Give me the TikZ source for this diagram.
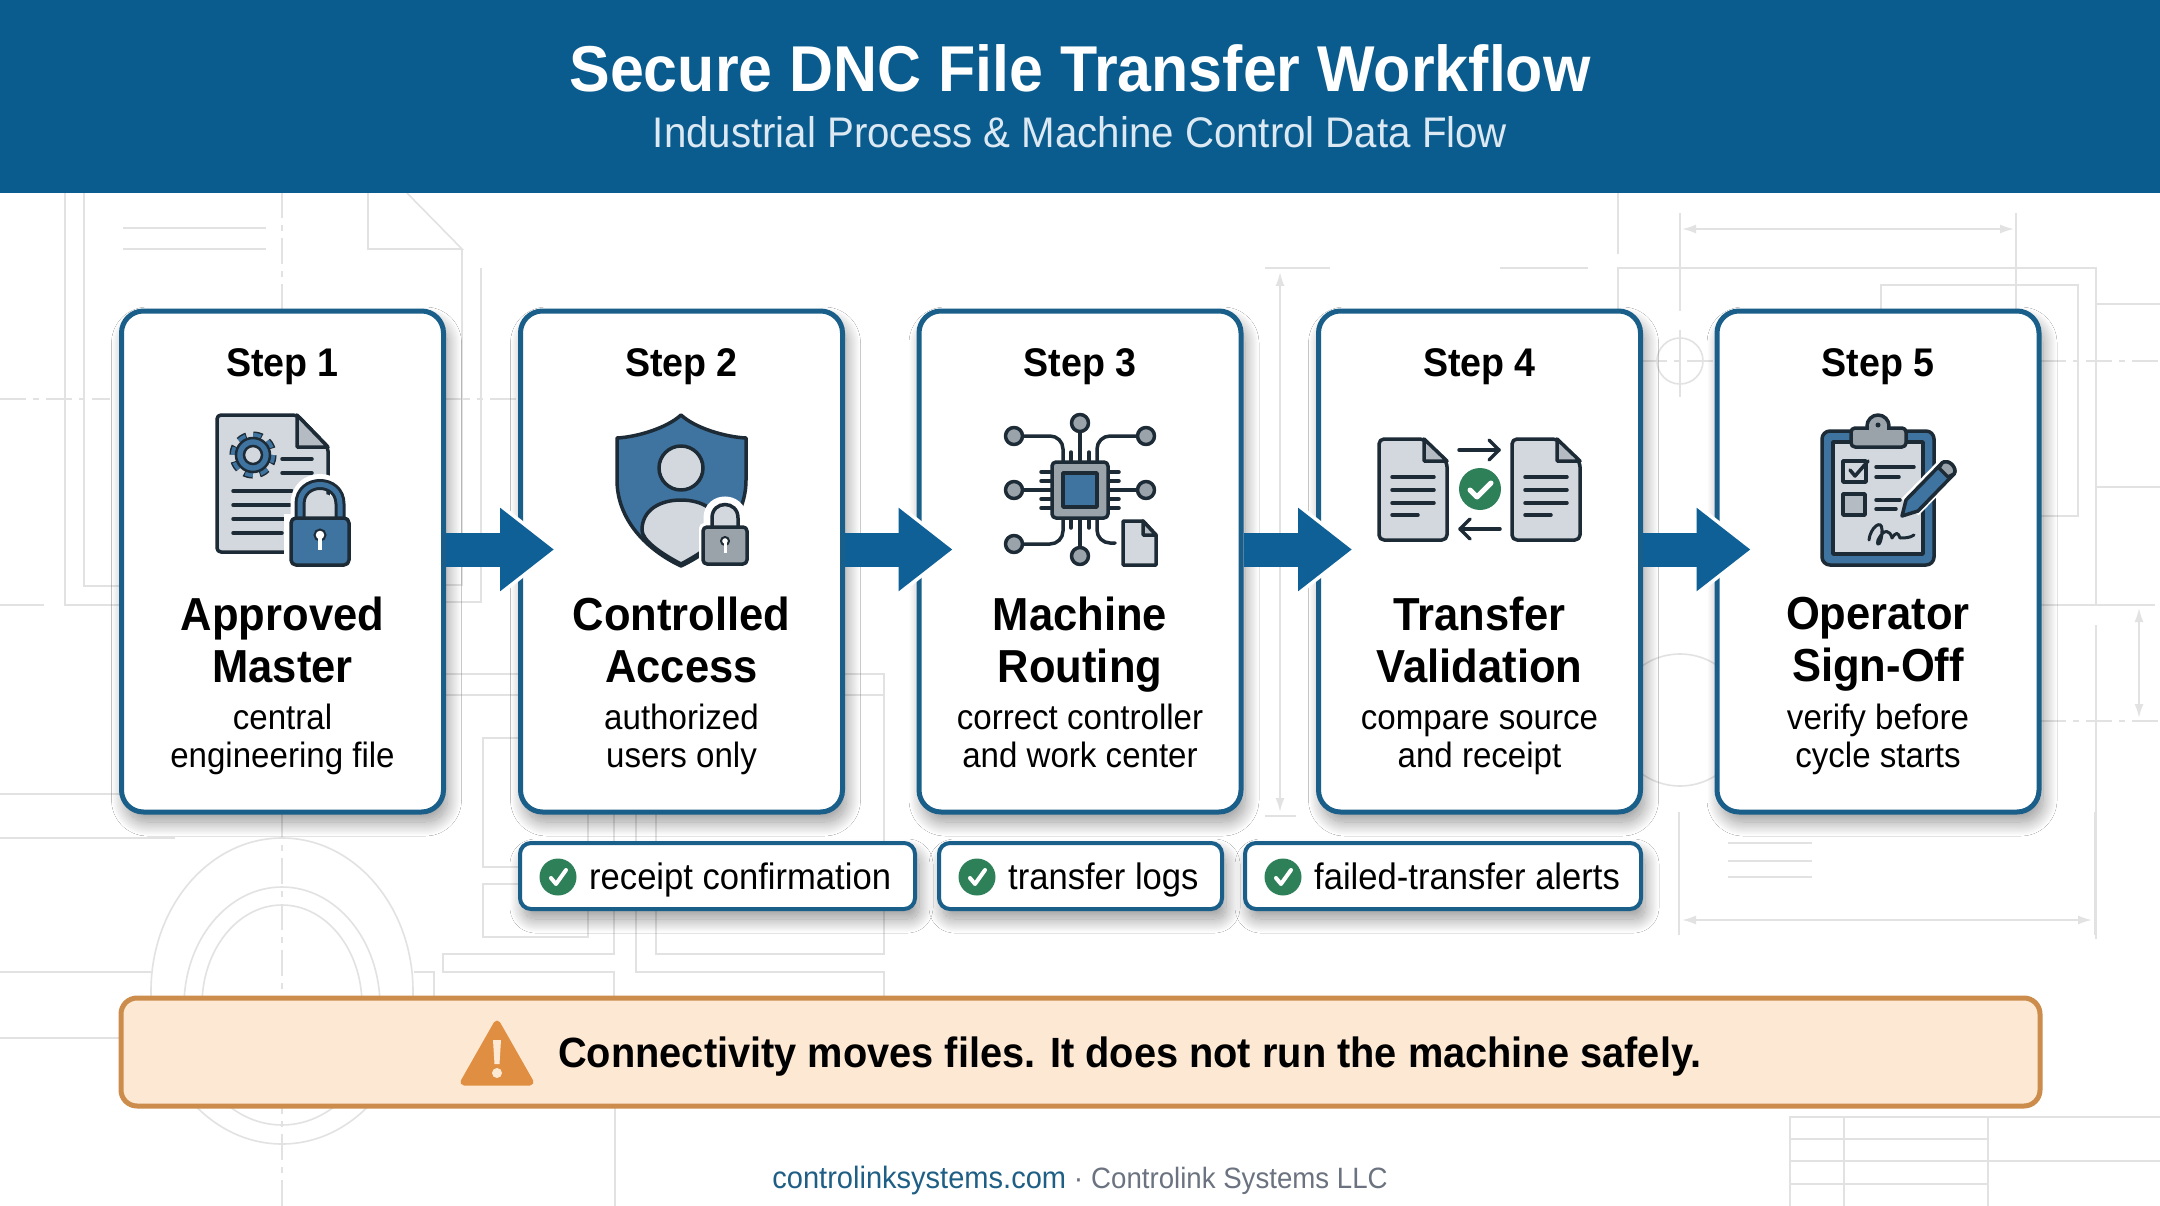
\documentclass[tikz,border=0pt]{standalone}
\usepackage{xcolor}
\usepackage{fontspec}
\setmainfont[FakeStretch=0.94]{Liberation Sans}
\usetikzlibrary{arrows.meta, positioning, shadows.blur}
\definecolor{headerblue}{HTML}{0b5c8e}
\definecolor{flowblue}{HTML}{0e6096}
\definecolor{cardblue}{HTML}{1a5f8a}
\definecolor{subtext}{HTML}{dce9f3}
\definecolor{inkdark}{HTML}{1d2b36}
\definecolor{sheetgray}{HTML}{d3d8de}
\definecolor{foldgray}{HTML}{b5bbc3}
\definecolor{midgray}{HTML}{9aa2aa}
\definecolor{iconblue}{HTML}{3f73a0}
\definecolor{okgreen}{HTML}{2e8058}
\definecolor{bannerfill}{HTML}{fde9d3}
\definecolor{bannerline}{HTML}{cb8c4c}
\definecolor{warnorange}{HTML}{e08f42}
\definecolor{draftline}{HTML}{e2e2e2}
\definecolor{linkblue}{HTML}{1f5f85}
\definecolor{graytext}{HTML}{6b7280}

\begin{document}
\begin{tikzpicture}[
  x=1pt, y=-1pt,
  softshadow/.style={blur shadow={shadow xshift=4pt, shadow yshift=-10pt, shadow blur radius=14pt, shadow blur steps=30, shadow opacity=42}},
  stepcard/.style={draw=cardblue, line width=5pt, rounded corners=22pt, fill=white,
                   minimum width=322pt, minimum height=501pt, softshadow},
  chipbox/.style={draw=cardblue, line width=4pt, rounded corners=11pt, fill=white,
                  minimum height=66pt, softshadow},
  stephead/.style={anchor=base, inner sep=0pt, font=\fontsize{40}{44}\selectfont\bfseries},
  steptitle/.style={anchor=north, inner sep=0pt, align=center,
                    font=\fontsize{46.3}{52}\selectfont\bfseries},
  stepdesc/.style={anchor=north, inner sep=0pt, align=center,
                   font=\fontsize{35.2}{38.5}\selectfont},
  chiptext/.style={anchor=base west, inner sep=0pt, font=\fontsize{36.8}{40}\selectfont},
  flowarrow/.style={draw=flowblue, line width=34pt, -{Triangle[length=54pt, width=80pt]},
                    preaction={draw=white, shorten >=-5pt, -{Triangle[length=62pt, width=94pt]}}},
  draft/.style={draw=draftline, line width=1.6pt},
  draftdash/.style={draw=draftline, line width=1.6pt, dash pattern=on 26pt off 7pt on 6pt off 7pt},
  dim/.style={draw=draftline, line width=2pt, {Latex[length=14pt, width=9pt]}-{Latex[length=14pt, width=9pt]}},
  ink/.style={draw=inkdark, line width=3.5pt, line join=round, line cap=round},
  okcheck/.style={draw=white, line width=4pt, line cap=round, line join=round},
]
\useasboundingbox (0,0) rectangle (2160,1206);
\fill[fill=white] (0,0) rectangle (2160,1206);

% Drawing lines behind the cards, left side
\draw[draft] (65,193) -- (65,605) -- (121,605);
\draw[draft] (84,193) -- (84,586) -- (121,586);
\draw[draft] (0,605) -- (44,605);
\draw[draftdash] (0,399) -- (110,399);
\draw[draftdash] (444,399) -- (521,399);
\draw[draft] (0,794) -- (121,794);
\draw[draft] (0,838) -- (175,838);
\draw[draft] (0,972) -- (151,972);
\draw[draft] (0,1038) -- (121,1038);
\draw[draft] (123,228) -- (266,228);
\draw[draft] (123,249) -- (266,249);
\draw[draftdash] (282,310) -- (282,193);
\draw[draft] (368,193) -- (368,249) -- (462,249) -- (407,193);
\draw[draft] (462,249) -- (462,585) -- (444,585);
\draw[draft] (481,268) -- (481,602) -- (444,602);
\draw[draft] (444,674) -- (521,674);
\draw[draft] (444,695) -- (521,695);
\draw[draftdash] (282,812) -- (282,1206);
\draw[draft] (282,991) ellipse [x radius=131, y radius=153];
\draw[draft] (282,1006) ellipse [x radius=98, y radius=119];
\draw[draft] (282,1005) ellipse [x radius=80, y radius=100];
\draw[draft] (414,972) -- (434,972) -- (434,998);

% Drawing lines behind the chips
\draw[draft] (521,738) -- (483,738) -- (483,867) -- (520,867);
\draw[draft] (520,884) -- (483,884) -- (483,937) -- (588,937) -- (588,812);
\draw[draft] (614,812) -- (614,954) -- (443,954) -- (443,972) -- (614,972) -- (614,998);
\draw[draft] (636,812) -- (636,972) -- (884,972) -- (884,998);
\draw[draft] (656,812) -- (656,954) -- (884,954) -- (884,674) -- (842,674);
\draw[draft] (842,695) -- (884,695);
\draw[draft] (615,1106) -- (615,1206);

% Drawing lines, right side
\draw[dim] (1280,272) -- (1280,812);
\draw[draft] (1265,268) -- (1330,268);
\draw[draft] (1265,816) -- (1296,816);
\draw[draft] (1500,268) -- (1588,268);
\draw[draft] (1618,193) -- (1618,254);
\draw[draft] (1618,311) -- (1618,268) -- (2096,268) -- (2096,605) -- (2040,605);
\draw[draft] (1680,213) -- (1680,311);
\draw[draft] (2016,213) -- (2016,311);
\draw[dim] (1682,229) -- (2014,229);
\draw[draft] (1881,311) -- (1881,285) -- (2078,285) -- (2078,516) -- (2040,516);
\draw[draft] (1680,361) circle [radius=23];
\draw[draft] (1680,330) -- (1680,397);
\draw[draftdash] (1641,361) -- (1717,361);
\draw[draftdash] (2040,361) -- (2160,361);
\draw[draft] (2096,304) -- (2160,304);
\draw[draft] (2096,487) -- (2160,487);
\draw[draft] (2096,605) -- (2155,605);
\draw[draft] (2096,625) -- (2096,939);
\draw[dim] (2139,608) -- (2139,718);
\draw[draftdash] (2040,721) -- (2160,721);
\draw[draft] (1680,720) circle [radius=66];
\draw[draft] (1679,812) -- (1679,935);
\draw[draft] (2095,812) -- (2095,935);
\draw[dim] (1682,920) -- (2092,920);
\draw[draft] (1728,843) -- (1812,843);
\draw[draft] (1728,861) -- (1812,861);
\draw[draft] (1728,877) -- (1812,877);
\draw[draft] (1790,1206) -- (1790,1117) -- (2160,1117);
\draw[draft] (1844,1117) -- (1844,1206);
\draw[draft] (1988,1117) -- (1988,1206);
\draw[draft] (1790,1139) -- (1988,1139);
\draw[draft] (1790,1161) -- (2160,1161);
\draw[draft] (1790,1184) -- (1988,1184);

% Header
\fill[headerblue] (0,0) rectangle (2160,193);
\node[font=\fontsize{64.8}{70}\selectfont\bfseries, text=white, inner sep=0pt] (title) at (1080,68) {Secure DNC File Transfer Workflow};
\node[font=\fontsize{42.8}{46}\selectfont, text=subtext, inner sep=0pt] (subtitle) at (1080,132) {Industrial Process \& Machine Control Data Flow};

% Step cards
\node[stepcard] (card1) at (282.5,561.5) {};
\node[stepcard] (card2) at (681.5,561.5) {};
\node[stepcard] (card3) at (1080,561.5) {};
\node[stepcard] (card4) at (1479.5,561.5) {};
\node[stepcard] (card5) at (1878,561.5) {};

% Step 1
\node[stephead] (head1) at (282.5,376) {Step 1};
\node[steptitle] (name1) at (282.5,597) {Approved\\Master};
\node[stepdesc] (desc1) at (282.5,703.3) {central\\engineering file};
\draw[ink, fill=sheetgray, rounded corners=4pt] (217,415) -- (297,415) -- (328,447) -- (328,552) -- (217,552) -- cycle;
\draw[ink, fill=foldgray] (297,415) -- (297,447) -- (328,447) -- cycle;
\draw[inkdark, line width=8pt, dash pattern=on 8.7pt off 6.7pt] (253,455) circle [radius=19.6];
\draw[iconblue, line width=5pt, dash pattern=on 7.7pt off 7.7pt] (253,455) circle [radius=19.6];
\draw[draw=inkdark, line width=2.5pt, fill=iconblue] (253,455) circle [radius=17];
\draw[draw=inkdark, line width=2.5pt, fill=sheetgray] (253,455) circle [radius=9];
\draw[ink] (282,459) -- (312,459);
\draw[ink] (282,473) -- (312,473);
\draw[ink] (233,491) -- (292,491);
\draw[ink] (233,505) -- (290,505);
\draw[ink] (233,519) -- (290,519);
\draw[ink] (233,533) -- (282,533);
\draw[white, line width=15pt] (298,518) -- (298,504) .. controls (298,474) and (342,474) .. (342,504) -- (342,518);
\fill[white] (284,514) rectangle (331,570);
\fill[sheetgray] (304,518) -- (304,504) .. controls (304,490) and (336,490) .. (336,504) -- (336,518) -- cycle;
\draw[inkdark, line width=11pt] (300,520) -- (300,504) .. controls (300,478) and (340,478) .. (340,504) -- (340,520);
\draw[iconblue, line width=5pt] (300,520) -- (300,504) .. controls (300,478) and (340,478) .. (340,504) -- (340,520);
\draw[ink, fill=iconblue, rounded corners=5pt] (291,518) rectangle (349,565);
\draw[inkdark, fill=white, line width=2pt] (320,535) circle [radius=5.5];
\draw[white, line width=4pt] (320,537) -- (320,550);

% Step 2
\node[stephead] (head2) at (681.5,376) {Step 2};
\node[steptitle] (name2) at (681.5,597) {Controlled\\Access};
\node[stepdesc] (desc2) at (681.5,703.3) {authorized\\users only};
\draw[ink, fill=iconblue] (681,415) .. controls (695,428) and (725,437) .. (746,438) -- (746,480) .. controls (746,520) and (715,550) .. (681,566) .. controls (647,550) and (617,520) .. (617,480) -- (617,438) .. controls (637,437) and (667,428) .. (681,415) -- cycle;
\draw[ink, fill=sheetgray] (681,468) ellipse [x radius=22, y radius=22];
\draw[ink, fill=sheetgray] (681,564) .. controls (660,553) and (642,540) .. (642,530) .. controls (642,510) and (660,500) .. (681,500) .. controls (702,500) and (720,510) .. (720,530) .. controls (720,540) and (702,553) .. (681,564) -- cycle;
\draw[white, line width=13pt] (710,528) -- (710,518) .. controls (710,498) and (740,498) .. (740,518) -- (740,528);
\fill[white, rounded corners=5pt] (699,523) rectangle (751,568);
\draw[inkdark, line width=3.5pt, fill=sheetgray] (712,528) -- (712,518) .. controls (712,500) and (738,500) .. (738,518) -- (738,528);
\draw[ink, fill=midgray, rounded corners=4pt] (703,527) rectangle (747,564);
\draw[inkdark, fill=white, line width=2pt] (725,541) circle [radius=4];
\draw[white, line width=3pt] (725,543) -- (725,553);

% Step 3
\node[stephead] (head3) at (1080,376) {Step 3};
\node[steptitle] (name3) at (1080,597) {Machine\\Routing};
\node[stepdesc] (desc3) at (1080,703.3) {correct controller\\and work center};
\draw[ink, rounded corners=13pt] (1014,436) -| (1063,462);
\draw[ink, rounded corners=13pt] (1146,436) -| (1097,462);
\draw[ink, rounded corners=13pt] (1014,544) -| (1063,518);
\draw[ink, rounded corners=13pt] (1115,543) -| (1097,518);
\draw[ink] (1080,423) -- (1080,462);
\draw[ink] (1080,518) -- (1080,556);
\draw[ink] (1014,490) -- (1052,490);
\draw[ink] (1108,490) -- (1146,490);
\draw[ink] (1071,452) -- (1071,462);
\draw[ink] (1089,452) -- (1089,462);
\draw[ink] (1071,518) -- (1071,528);
\draw[ink] (1089,518) -- (1089,528);
\draw[ink] (1041,472) -- (1052,472);
\draw[ink] (1041,481) -- (1052,481);
\draw[ink] (1041,499) -- (1052,499);
\draw[ink] (1041,508) -- (1052,508);
\draw[ink] (1108,472) -- (1119,472);
\draw[ink] (1108,481) -- (1119,481);
\draw[ink] (1108,499) -- (1119,499);
\draw[ink] (1108,508) -- (1119,508);
\draw[ink, fill=midgray, rounded corners=4pt] (1052,462) rectangle (1108,518);
\draw[ink, fill=iconblue] (1063,473) rectangle (1097,507);
\draw[ink, fill=midgray] (1080,423) circle [radius=8.5];
\draw[ink, fill=midgray] (1014,436) circle [radius=8.5];
\draw[ink, fill=midgray] (1146,436) circle [radius=8.5];
\draw[ink, fill=midgray] (1014,490) circle [radius=8.5];
\draw[ink, fill=midgray] (1146,490) circle [radius=8.5];
\draw[ink, fill=midgray] (1014,544) circle [radius=8.5];
\draw[ink, fill=midgray] (1080,556) circle [radius=8.5];
\draw[ink, fill=sheetgray] (1123,521) -- (1143,521) -- (1156,535) -- (1156,565) -- (1123,565) -- cycle;
\draw[ink, fill=foldgray] (1143,521) -- (1143,535) -- (1156,535) -- cycle;

% Step 4
\node[stephead] (head4) at (1479.5,376) {Step 4};
\node[steptitle] (name4) at (1479.5,597) {Transfer\\Validation};
\node[stepdesc] (desc4) at (1479.5,703.3) {\vphantom{l}compare source\\and receipt};
\draw[ink, fill=sheetgray, rounded corners=5pt] (1379,439) -- (1424,439) -- (1447,462) -- (1447,540) -- (1379,540) -- cycle;
\draw[ink, fill=foldgray] (1424,439) -- (1424,461) -- (1447,461) -- cycle;
\draw[ink] (1392,477) -- (1434,477);
\draw[ink] (1392,490) -- (1434,490);
\draw[ink] (1392,503) -- (1434,503);
\draw[ink] (1392,515) -- (1418,515);
\draw[ink, fill=sheetgray, rounded corners=5pt] (1512,439) -- (1557,439) -- (1580,462) -- (1580,540) -- (1512,540) -- cycle;
\draw[ink, fill=foldgray] (1557,439) -- (1557,461) -- (1580,461) -- cycle;
\draw[ink] (1525,477) -- (1567,477);
\draw[ink] (1525,490) -- (1567,490);
\draw[ink] (1525,503) -- (1567,503);
\draw[ink] (1525,515) -- (1551,515);
\draw[ink] (1459,450) -- (1499,450);
\draw[ink] (1489,440) -- (1499,450) -- (1489,460);
\draw[ink] (1500,529) -- (1460,529);
\draw[ink] (1470,519) -- (1460,529) -- (1470,539);
\fill[okgreen] (1480,489) circle [radius=21];
\draw[okcheck, line width=5pt] (1470,490) -- (1477,497) -- (1491,483);

% Step 5
\node[stephead] (head5) at (1878,376) {Step 5};
\node[steptitle] (name5) at (1878,597) {Operator\\Sign-Off};
\node[stepdesc] (desc5) at (1878,703.3) {verify before\\cycle starts};
\draw[ink, fill=iconblue, rounded corners=8pt] (1822,431) rectangle (1934,565);
\draw[ink, fill=sheetgray] (1833,442) rectangle (1923,554);
\draw[ink, fill=midgray] (1878,426) circle [radius=11];
\draw[ink, fill=midgray, rounded corners=4pt] (1851,428) rectangle (1906,447);
\fill[midgray] (1869,424) rectangle (1887,433);
\fill[inkdark] (1878,425) circle [radius=2.5];
\draw[ink, fill=sheetgray] (1843,461) rectangle (1866,482);
\draw[ink] (1850,470) -- (1855,476) -- (1868,461);
\draw[ink] (1876,467) -- (1914,467);
\draw[ink] (1876,477) -- (1899,477);
\draw[ink, fill=foldgray] (1843,494) rectangle (1865,515);
\draw[ink] (1876,500) -- (1900,500);
\draw[ink] (1876,509) -- (1896,509);
\draw[ink, line width=3pt] (1869,540) .. controls (1870,528) and (1882,518) .. (1882,530) .. controls (1882,545) and (1876,548) .. (1878,540) .. controls (1884,528) and (1890,530) .. (1892,538) .. controls (1896,532) and (1898,532) .. (1900,538) .. controls (1904,538) and (1910,538) .. (1914,535);
\draw[white, line width=24pt] (1910,507) -- (1948,468);
\draw[ink, fill=iconblue] (1902,516) -- (1906,500) -- (1942,463) .. controls (1948,458) and (1958,468) .. (1954,474) -- (1918,511) -- cycle;
\draw[ink, fill=midgray] (1942,463) .. controls (1948,458) and (1958,468) .. (1954,474) -- (1948,477) -- (1939,468) -- cycle;

% Arrows
\draw[flowarrow] ([yshift=12pt]card1.east) -- ([xshift=36pt, yshift=12pt]card2.west);
\draw[flowarrow] ([yshift=12pt]card2.east) -- ([xshift=36pt, yshift=12pt]card3.west);
\draw[flowarrow] ([yshift=12pt]card3.east) -- ([xshift=36pt, yshift=12pt]card4.west);
\draw[flowarrow] ([yshift=12pt]card4.east) -- ([xshift=36pt, yshift=12pt]card5.west);

% Chips
\node[chipbox, minimum width=395pt] (chip1) at (717.5,876) {};
\fill[okgreen] (558,877) circle [radius=18.5];
\draw[okcheck] (551,878) -- (556,884) -- (566,870);
\node[chiptext] (chiptext1) at (589,889) {receipt confirmation};
\node[chipbox, minimum width=283pt] (chip2) at (1080.5,876) {};
\fill[okgreen] (977,877) circle [radius=18.5];
\draw[okcheck] (970,878) -- (975,884) -- (985,870);
\node[chiptext] (chiptext2) at (1008,889) {transfer logs};
\node[chipbox, minimum width=396pt] (chip3) at (1443,876) {};
\fill[okgreen] (1283,877) circle [radius=18.5];
\draw[okcheck] (1276,878) -- (1281,884) -- (1291,870);
\node[chiptext] (chiptext3) at (1314,889) {failed-transfer alerts};

% Warning banner
\node[draw=bannerline, line width=5pt, rounded corners=16pt, fill=bannerfill,
      minimum width=1919pt, minimum height=108pt] (banner) at (1080.5,1052) {};
\draw[draw=warnorange, fill=warnorange, line width=7pt, line join=round] (497,1024) -- (530,1082) -- (464,1082) -- cycle;
\fill[bannerfill] (493,1040) -- (501,1040) -- (499.5,1064) -- (494.5,1064) -- cycle;
\fill[bannerfill] (497,1073) circle [radius=5];
\node[anchor=base west, inner sep=0pt, font=\fontsize{42.3}{48}\selectfont\bfseries] (warntext) at (558,1067) {Connectivity moves files. It does not run the machine safely.};

% Footer
\node[anchor=base, inner sep=0pt, font=\fontsize{30}{32}\selectfont] (footer) at (1080,1188) {\textcolor{linkblue}{\fontsize{30.9}{32}\selectfont controlinksystems.com} \textcolor{graytext}{· \fontsize{29.4}{32}\selectfont Controlink Systems LLC}};
\end{tikzpicture}
\end{document}
